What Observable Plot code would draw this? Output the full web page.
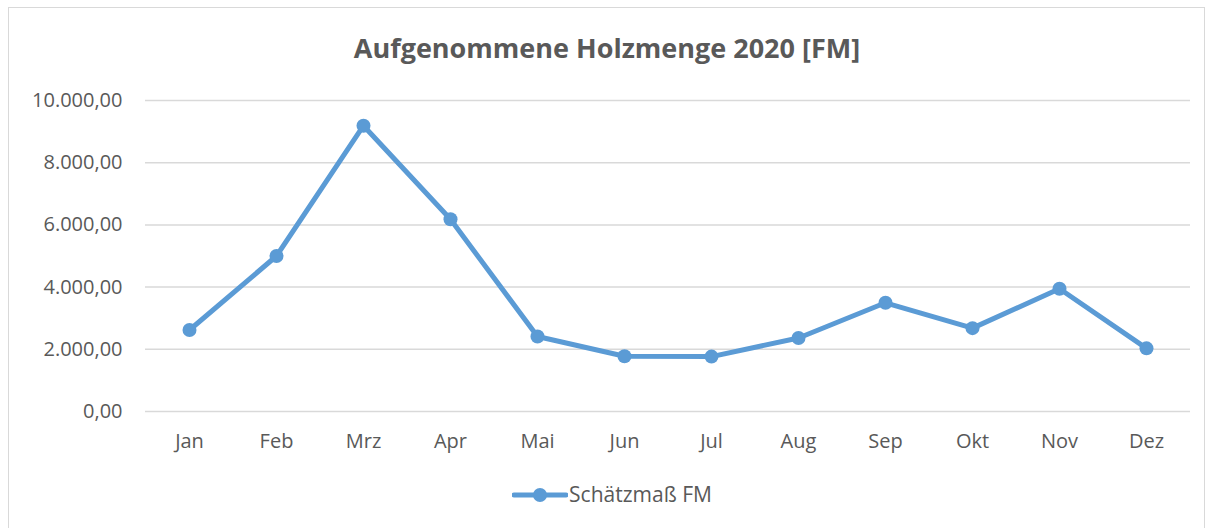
<!DOCTYPE html>
<html>
<head>
<meta charset="utf-8">
<script src="https://cdn.jsdelivr.net/npm/d3@7"></script>
<script src="https://cdn.jsdelivr.net/npm/@observablehq/plot@0.6"></script>
<style>
  html, body { margin: 0; padding: 0; background: #fff; }
  body { width: 1214px; height: 528px; position: relative; overflow: hidden; font-family: "Open Sans", sans-serif; }
  #frame { position: absolute; left: 8px; top: 7px; width: 1197px; height: 540px; border: 1px solid #d9d9d9; box-sizing: border-box; }
  #title { position: absolute; left: 0; width: 1214px; top: 29px; text-align: center; font-size: 27px; font-weight: bold; color: #595959; line-height: 38px; }
  #chart { position: absolute; left: 0; top: 0; }
  #legend { position: absolute; left: 0; width: 1214px; top: 479px; text-align: center; font-size: 21px; color: #595959; line-height: 30px; padding-left: 10px; box-sizing: border-box; }
  #legend svg { vertical-align: middle; margin-right: 1px; position: relative; top: -1px; }
</style>
</head>
<body>
<div id="frame"></div>
<div id="chart"></div>
<div id="title">Aufgenommene Holzmenge 2020 [FM]</div>
<div id="legend"></div>
<script>
const months = ["Jan", "Feb", "Mrz", "Apr", "Mai", "Jun", "Jul", "Aug", "Sep", "Okt", "Nov", "Dez"];
const values = [2620, 5000, 9190, 6180, 2410, 1775, 1765, 2365, 3495, 2680, 3945, 2030];
const yTicks = [0, 2000, 4000, 6000, 8000, 10000];
const seriesName = "Schätzmaß FM";
const color = "#5B9BD5";

const data = months.map((m, i) => ({month: m, value: values[i]}));
const fmt = v => d3.format(",.2f")(v).replace(/,/g, "X").replace(/\./g, ",").replace(/X/g, ".");

const chart = Plot.plot({
  width: 1214,
  height: 528,
  marginTop: 100,
  marginBottom: 117,
  marginLeft: 145,
  marginRight: 24,
  style: {fontFamily: "Open Sans, sans-serif", fontSize: "20px", color: "#595959", background: "transparent"},
  x: {type: "point", domain: months, padding: 0.5, label: null},
  y: {domain: [0, 10000], ticks: yTicks, label: null},
  marks: [
    Plot.gridY(yTicks, {stroke: "#d9d9d9", strokeOpacity: 1, strokeWidth: 1.5}),
    Plot.axisY(yTicks, {tickSize: 0, tickPadding: 23, tickFormat: fmt, fill: "#595959", fontSize: 20}),
    Plot.axisX(months, {tickSize: 0, tickPadding: 22, fill: "#595959", fontSize: 20}),
    Plot.line(data, {x: "month", y: "value", stroke: color, strokeWidth: 5, strokeLinejoin: "round", strokeLinecap: "round"}),
    Plot.dot(data, {x: "month", y: "value", fill: color, r: 7})
  ]
});
document.getElementById("chart").appendChild(chart);

const leg = document.getElementById("legend");
leg.innerHTML = `<svg width="56" height="16"><line x1="2" y1="8" x2="54" y2="8" stroke="${color}" stroke-width="5" stroke-linecap="round"/><circle cx="28" cy="8" r="7" fill="${color}"/></svg><span>${seriesName}</span>`;
</script>
</body>
</html>
